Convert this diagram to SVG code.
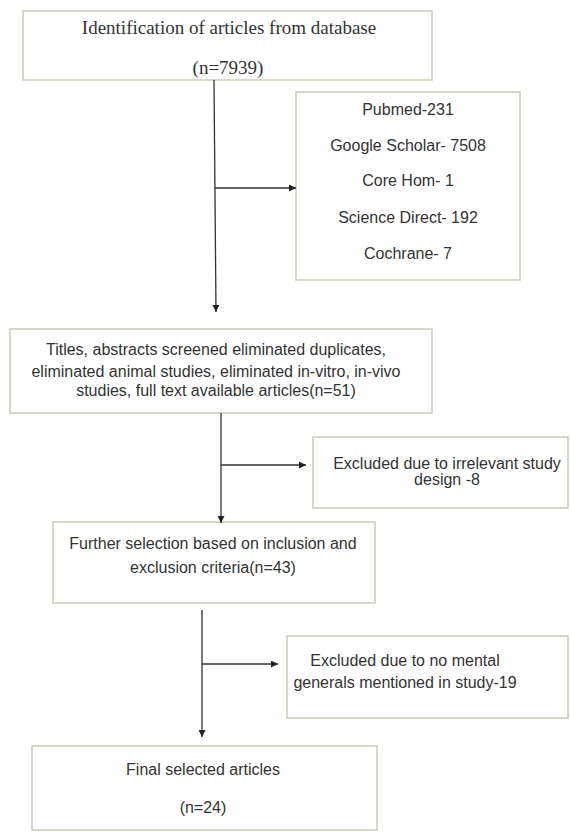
<svg xmlns="http://www.w3.org/2000/svg" width="571" height="834" viewBox="0 0 571 834">
<defs>
<marker id="ah" viewBox="0 0 10 10" refX="10" refY="5" markerWidth="7" markerHeight="7" orient="auto" markerUnits="userSpaceOnUse"><path d="M0,0 L10,5 L0,10 z" fill="#222"/></marker>
<style>
.box{fill:#fff;stroke:#c4cfb6;stroke-width:1.5}
.t{font-family:"Liberation Sans",Arial,sans-serif;font-size:16px;fill:#333;text-anchor:middle}
.s{font-family:"Liberation Serif","Times New Roman",serif;font-size:19px;fill:#333;text-anchor:middle}
.c{stroke:#333;stroke-width:1.3;fill:none}
</style>
</defs>
<rect width="571" height="834" fill="#fff"/>
<g id="n1"><rect class="box" x="23" y="11" width="409" height="69"/>
<text class="s" x="229" y="34">Identification of articles from database</text>
<text class="s" x="228" y="74">(n=7939)</text></g>
<g id="n2"><rect class="box" x="296" y="92" width="224" height="188"/>
<text class="t" x="408" y="114.5">Pubmed-231</text>
<text class="t" x="408" y="150.5">Google Scholar- 7508</text>
<text class="t" x="408" y="185.5">Core Hom- 1</text>
<text class="t" x="408" y="222.5">Science Direct- 192</text>
<text class="t" x="408" y="258.5">Cochrane- 7</text></g>
<g id="n3"><rect class="box" x="10" y="329" width="422" height="84"/>
<text class="t" x="216" y="354.5">Titles, abstracts screened eliminated duplicates,</text>
<text class="t" x="216" y="376.5">eliminated animal studies, eliminated in-vitro, in-vivo</text>
<text class="t" x="216" y="395.5">studies, full text available articles(n=51)</text></g>
<g id="n4"><rect class="box" x="313" y="437" width="255" height="71"/>
<text class="t" x="447" y="468.5">Excluded due to irrelevant study</text>
<text class="t" x="447" y="484.5">design -8</text></g>
<g id="n5"><rect class="box" x="53" y="522" width="322" height="81"/>
<text class="t" x="213" y="548.5">Further selection based on inclusion and</text>
<text class="t" x="213" y="572.5">exclusion criteria(n=43)</text></g>
<g id="n6"><rect class="box" x="287" y="636" width="281" height="82"/>
<text class="t" x="405" y="665.5">Excluded due to no mental</text>
<text class="t" x="405" y="687.5">generals mentioned in study-19</text></g>
<g id="n7"><rect class="box" x="32" y="746" width="345" height="84"/>
<text class="t" x="203" y="774.5">Final selected articles</text>
<text class="t" x="203" y="812.5">(n=24)</text></g>
<g id="connectors">
<line class="c" x1="214" y1="80" x2="216" y2="312" marker-end="url(#ah)"/>
<line class="c" x1="215" y1="188" x2="296" y2="188" marker-end="url(#ah)"/>
<line class="c" x1="221" y1="413" x2="221" y2="523" marker-end="url(#ah)"/>
<line class="c" x1="221" y1="465" x2="306" y2="465" marker-end="url(#ah)"/>
<line class="c" x1="202" y1="610" x2="202" y2="737" marker-end="url(#ah)"/>
<line class="c" x1="202" y1="664" x2="278" y2="664" marker-end="url(#ah)"/>
</g>
</svg>
